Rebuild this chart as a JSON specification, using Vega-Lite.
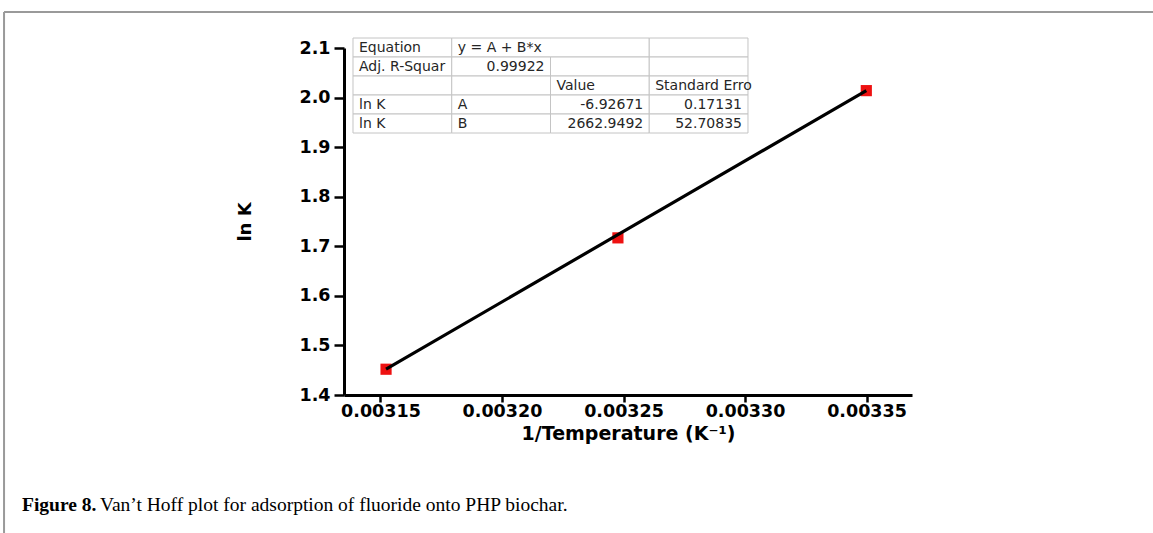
{
  "$schema": "https://vega.github.io/schema/vega-lite/v6.json",
  "width": 568,
  "height": 347,
  "autosize": {"type": "none"},
  "padding": {"left": 344, "top": 48, "right": 241, "bottom": 138},
  "background": "white",
  "config": {"view": {"stroke": null}},
  "datasets": {
    "points": [
      {"invT": 0.0031523, "lnK": 1.452, "fit": 1.452},
      {"invT": 0.0032477, "lnK": 1.717, "fit": 1.7235},
      {"invT": 0.0033499, "lnK": 2.014, "fit": 2.014}
    ],
    "table": [
      {"row": 0, "rowEnd": 1, "col": 0, "colEnd": 1, "text": "Equation"},
      {"row": 0, "rowEnd": 1, "col": 1, "colEnd": 3, "text": "y = A + B*x"},
      {"row": 0, "rowEnd": 1, "col": 3, "colEnd": 4, "text": ""},
      {"row": 1, "rowEnd": 2, "col": 0, "colEnd": 1, "text": "Adj. R-Squar"},
      {"row": 1, "rowEnd": 2, "col": 1, "colEnd": 2, "text": "0.99922"},
      {"row": 1, "rowEnd": 2, "col": 2, "colEnd": 3, "text": ""},
      {"row": 1, "rowEnd": 2, "col": 3, "colEnd": 4, "text": ""},
      {"row": 2, "rowEnd": 3, "col": 0, "colEnd": 1, "text": ""},
      {"row": 2, "rowEnd": 3, "col": 1, "colEnd": 2, "text": ""},
      {"row": 2, "rowEnd": 3, "col": 2, "colEnd": 3, "text": "Value"},
      {"row": 2, "rowEnd": 3, "col": 3, "colEnd": 4, "text": "Standard Erro"},
      {"row": 3, "rowEnd": 4, "col": 0, "colEnd": 1, "text": "ln K"},
      {"row": 3, "rowEnd": 4, "col": 1, "colEnd": 2, "text": "A"},
      {"row": 3, "rowEnd": 4, "col": 2, "colEnd": 3, "text": "-6.92671"},
      {"row": 3, "rowEnd": 4, "col": 3, "colEnd": 4, "text": "0.17131"},
      {"row": 4, "rowEnd": 5, "col": 0, "colEnd": 1, "text": "ln K"},
      {"row": 4, "rowEnd": 5, "col": 1, "colEnd": 2, "text": "B"},
      {"row": 4, "rowEnd": 5, "col": 2, "colEnd": 3, "text": "2662.9492"},
      {"row": 4, "rowEnd": 5, "col": 3, "colEnd": 4, "text": "52.70835"}
    ]
  },
  "layer": [
    {
      "data": {"name": "points"},
      "encoding": {
        "x": {
          "field": "invT", "type": "quantitative",
          "scale": {"domain": [0.003135, 0.0033687], "nice": false, "zero": false},
          "axis": {
            "values": [0.00315, 0.0032, 0.00325, 0.0033, 0.00335],
            "format": ".5f",
            "grid": false,
            "domainColor": "black", "domainWidth": 3,
            "tickColor": "black", "tickWidth": 2.5, "tickSize": 7,
            "labelFont": "DejaVu Sans", "labelFontWeight": "bold", "labelFontSize": 17.5,
            "labelColor": "black", "labelPadding": 0,
            "title": "1/Temperature (K⁻¹)",
            "titleFont": "DejaVu Sans", "titleFontWeight": "bold", "titleFontSize": 19,
            "titleColor": "black", "titlePadding": 5
          }
        },
        "y": {
          "field": "lnK", "type": "quantitative",
          "scale": {"domain": [1.4, 2.1], "nice": false, "zero": false},
          "axis": {
            "values": [1.4, 1.5, 1.6, 1.7, 1.8, 1.9, 2.0, 2.1],
            "format": ".1f",
            "grid": false,
            "domainColor": "black", "domainWidth": 3,
            "tickColor": "black", "tickWidth": 2.5, "tickSize": 10,
            "labelFont": "DejaVu Sans", "labelFontWeight": "bold", "labelFontSize": 17.5,
            "labelColor": "black", "labelPadding": 4,
            "title": "ln K",
            "titleFont": "DejaVu Sans", "titleFontWeight": "bold", "titleFontSize": 18,
            "titleColor": "black", "titlePadding": 44
          }
        }
      },
      "layer": [
        {"mark": {"type": "point", "shape": "square", "filled": true, "color": "#ee1111", "size": 125, "opacity": 1}},
        {"mark": {"type": "line", "color": "black", "strokeWidth": 3.2}, "encoding": {"y": {"field": "fit", "type": "quantitative"}}}
      ]
    },
    {
      "data": {"name": "table"},
      "encoding": {
        "y": {"field": "row", "type": "quantitative", "scale": {"domain": [0.526, 18.79], "reverse": true, "nice": false, "zero": false}, "axis": null}
      },
      "layer": [
        {
          "mark": {"type": "rect", "fill": "white", "stroke": "#c4c4c4", "strokeWidth": 1},
          "encoding": {
            "x": {"field": "col", "type": "quantitative", "scale": {"domain": [-0.0911, 5.661], "nice": false, "zero": false}, "axis": null},
            "x2": {"field": "colEnd"},
            "y2": {"field": "rowEnd"}
          }
        },
        {
          "transform": [{"filter": "!isFinite(toNumber(datum.text))"}],
          "mark": {"type": "text", "align": "left", "baseline": "middle", "dx": 6, "dy": 9.8, "font": "DejaVu Sans", "fontSize": 14, "color": "#262626"},
          "encoding": {
            "x": {"field": "col", "type": "quantitative"},
            "text": {"field": "text"}
          }
        },
        {
          "transform": [{"filter": "isFinite(toNumber(datum.text))"}],
          "mark": {"type": "text", "align": "right", "baseline": "middle", "dx": -6, "dy": 9.8, "font": "DejaVu Sans", "fontSize": 14, "color": "#262626"},
          "encoding": {
            "x": {"field": "colEnd", "type": "quantitative"},
            "text": {"field": "text"}
          }
        }
      ]
    },
    {
      "data": {"values": [{}]},
      "layer": [
        {
          "mark": {"type": "rule", "color": "#9a9a9a", "strokeWidth": 2},
          "encoding": {
            "x": {"datum": 0.0035, "type": "quantitative", "scale": {"domain": [0.29835, 0.79098], "nice": false, "zero": false}, "axis": null},
            "x2": {"datum": 1.0},
            "y": {"datum": 0.0225, "type": "quantitative", "scale": {"domain": [0.09006, 0.74109], "reverse": true, "nice": false, "zero": false}, "axis": null}
          }
        },
        {
          "mark": {"type": "rule", "color": "#9a9a9a", "strokeWidth": 2},
          "encoding": {
            "x": {"datum": 0.0035, "type": "quantitative"},
            "y": {"datum": 0.0225, "type": "quantitative"},
            "y2": {"datum": 1.0}
          }
        },
        {
          "mark": {"type": "text", "align": "left", "baseline": "alphabetic", "font": "Liberation Serif", "fontWeight": "bold", "fontSize": 19.5, "color": "black"},
          "encoding": {
            "x": {"datum": 0.01908, "type": "quantitative"},
            "y": {"datum": 0.9587, "type": "quantitative"},
            "text": {"value": "Figure 8."}
          }
        },
        {
          "mark": {"type": "text", "align": "left", "baseline": "alphabetic", "font": "Liberation Serif", "fontSize": 19.5, "color": "black"},
          "encoding": {
            "x": {"datum": 0.0867, "type": "quantitative"},
            "y": {"datum": 0.9587, "type": "quantitative"},
            "text": {"value": "Van’t Hoff plot for adsorption of fluoride onto PHP biochar."}
          }
        }
      ]
    }
  ],
  "resolve": {"scale": {"x": "independent", "y": "independent"}}
}
